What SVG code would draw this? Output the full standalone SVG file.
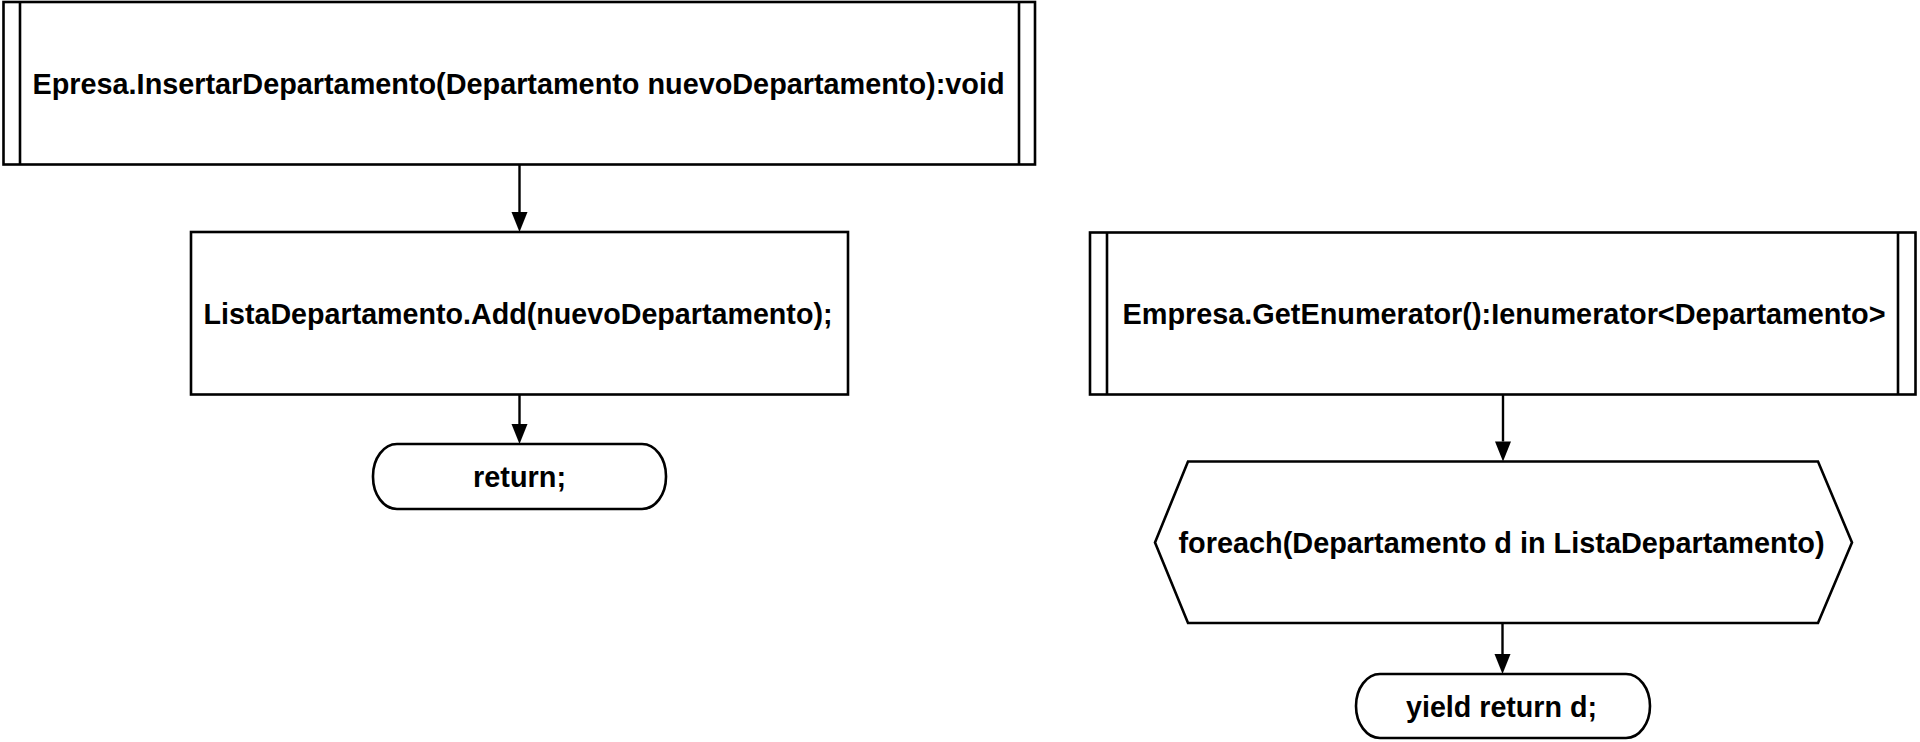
<svg xmlns="http://www.w3.org/2000/svg" width="1920" height="742" viewBox="0 0 1920 742">
<style>
.shape{fill:#fff;stroke:#000;stroke-width:2.6}
.line{fill:none;stroke:#000;stroke-width:2.6}
.lbl{font-family:"Liberation Sans",Arial,sans-serif;font-weight:bold;font-size:30px;fill:#000;text-anchor:middle}
.conn{fill:none;stroke:#000;stroke-width:2.4}
.head{fill:#000}
</style>
<rect width="1920" height="742" fill="#fff"/>
<g id="connectors">
<path class="conn" d="M519.5,164.5 V212"/>
<path class="head" d="M511.5,212 L527.5,212 L519.5,232 Z"/>
<path class="conn" d="M519.5,394.5 V424"/>
<path class="head" d="M511.5,424 L527.5,424 L519.5,444 Z"/>
<path class="conn" d="M1503,394.5 V441.5"/>
<path class="head" d="M1495,441.5 L1511,441.5 L1503,461.5 Z"/>
<path class="conn" d="M1502.5,623 V654"/>
<path class="head" d="M1494.5,654 L1510.5,654 L1502.5,674 Z"/>
</g>
<g id="node-insertar">
<rect class="shape" x="3.5" y="2" width="1031.5" height="162.5"/>
<line class="line" x1="20" y1="2" x2="20" y2="164.5"/>
<line class="line" x1="1019" y1="2" x2="1019" y2="164.5"/>
<text class="lbl" x="518.5" y="93.7" textLength="972" lengthAdjust="spacingAndGlyphs">Epresa.InsertarDepartamento(Departamento nuevoDepartamento):void</text>
</g>
<g id="node-add">
<rect class="shape" x="191" y="232" width="657" height="162.5"/>
<text class="lbl" x="518" y="323.7" textLength="629" lengthAdjust="spacingAndGlyphs">ListaDepartamento.Add(nuevoDepartamento);</text>
</g>
<g id="node-return">
<rect class="shape" x="373" y="444" width="293" height="65" rx="24" ry="32"/>
<text class="lbl" x="519.5" y="487.2" textLength="93" lengthAdjust="spacingAndGlyphs">return;</text>
</g>
<g id="node-getenumerator">
<rect class="shape" x="1090" y="232.5" width="825.5" height="162"/>
<line class="line" x1="1107" y1="232.5" x2="1107" y2="394.5"/>
<line class="line" x1="1898" y1="232.5" x2="1898" y2="394.5"/>
<text class="lbl" x="1504" y="323.7" textLength="763" lengthAdjust="spacingAndGlyphs">Empresa.GetEnumerator():Ienumerator&lt;Departamento&gt;</text>
</g>
<g id="node-foreach">
<polygon class="shape" points="1188,461.5 1818,461.5 1852,542.5 1818,623 1188,623 1155,542.5"/>
<text class="lbl" x="1501.5" y="553.2" textLength="646" lengthAdjust="spacingAndGlyphs">foreach(Departamento d in ListaDepartamento)</text>
</g>
<g id="node-yield">
<rect class="shape" x="1356" y="674" width="294" height="64" rx="24" ry="32"/>
<text class="lbl" x="1501.5" y="716.7" textLength="191" lengthAdjust="spacingAndGlyphs">yield return d;</text>
</g>
</svg>
